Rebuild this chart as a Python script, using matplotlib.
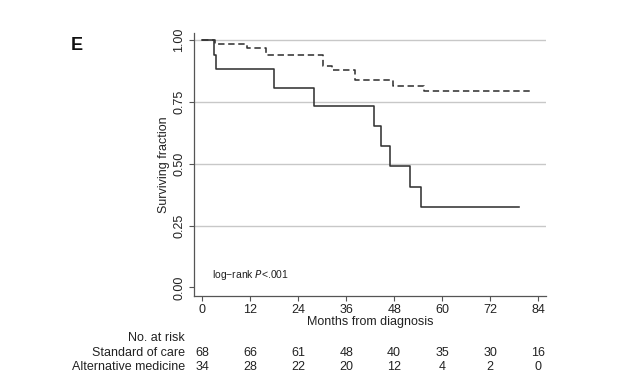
import numpy as np
import matplotlib
matplotlib.use('Agg')
import matplotlib.pyplot as plt

plt.rcParams['font.family'] = ['Liberation Sans', 'DejaVu Sans']

# Kaplan-Meier steps (months, surviving fraction)
soc_t = [0, 3.3, 11.3, 16.0, 30.3, 32.5, 38.3, 47.8, 55.5, 82.7]
soc_s = [1.0, 0.985, 0.970, 0.941, 0.897, 0.878, 0.838, 0.815, 0.795, 0.795]

alt_t = [0, 3.0, 3.6, 18.0, 28.0, 43.0, 44.8, 47.0, 52.0, 54.7, 79.2]
alt_s = [1.0, 0.941, 0.882, 0.806, 0.733, 0.652, 0.571, 0.490, 0.407, 0.326, 0.326]

# number at risk table
risk_months = [0, 12, 24, 36, 48, 60, 72, 84]
risk_soc = [68, 66, 61, 48, 40, 35, 30, 16]
risk_alt = [34, 28, 22, 20, 12, 4, 2, 0]

fig = plt.figure(figsize=(6.2, 3.82), dpi=100)
ax = fig.add_axes([0.313, 0.225, 0.568, 0.689])

ax.step(soc_t, soc_s, where='post', color='#333333', lw=1.15,
        linestyle=(0, (4, 2.3)))
ax.step(alt_t, alt_s, where='post', color='#333333', lw=1.15)

ax.set_xlim(-2, 86)
ax.set_ylim(-0.035, 1.03)
ax.set_xticks(risk_months)
ax.set_yticks([0, 0.25, 0.5, 0.75, 1.0])
ax.set_yticklabels(['0.00', '0.25', '0.50', '0.75', '1.00'], rotation=90, va='center')
for y in [0.25, 0.5, 0.75, 1.0]:
    ax.axhline(y, color='#c8c8c8', lw=1.0, zorder=0)

for s in ['top', 'right']:
    ax.spines[s].set_visible(False)
for s in ['left', 'bottom']:
    ax.spines[s].set_color('#555555')
    ax.spines[s].set_linewidth(0.9)
ax.tick_params(axis='both', labelsize=9, length=3.5, width=0.8, color='#555555',
               labelcolor='#222222', pad=2)
ax.tick_params(axis='y', pad=3)

ax.set_ylabel('Surviving fraction', fontsize=9, color='#222222', labelpad=2)
ax.set_xlabel('Months from diagnosis', fontsize=9, color='#222222', labelpad=0)

ax.text(2.5, 0.04, 'log\u2212rank $\\mathit{P}$<.001', fontsize=7.5, color='#222222')

# risk table
tr = ax.get_xaxis_transform()
fig.text(185 / 620, 1 - 338 / 382, 'No. at risk', ha='right', va='center',
         fontsize=9, color='#222222')
fig.text(185 / 620, 1 - 353 / 382, 'Standard of care', ha='right', va='center',
         fontsize=9, color='#222222')
fig.text(185 / 620, 1 - 367 / 382, 'Alternative medicine', ha='right', va='center',
         fontsize=9, color='#222222')
y_soc = (1 - 353 / 382 - 0.225) / 0.689
y_alt = (1 - 367 / 382 - 0.225) / 0.689
for m, a, b in zip(risk_months, risk_soc, risk_alt):
    ax.text(m, y_soc, str(a), transform=tr, ha='center', va='center',
            fontsize=9, color='#222222', clip_on=False)
    ax.text(m, y_alt, str(b), transform=tr, ha='center', va='center',
            fontsize=9, color='#222222', clip_on=False)

fig.text(77 / 620, 1 - 45 / 382, 'E', ha='center', va='center',
         fontsize=13, fontweight='bold', color='#111111')

fig.savefig('out.png', dpi=100)
